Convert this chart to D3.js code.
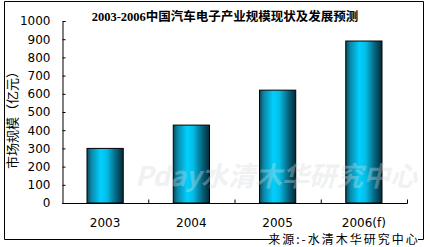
<!DOCTYPE html>
<html><head><meta charset="utf-8">
<script src="https://cdn.jsdelivr.net/npm/d3@7/dist/d3.min.js"></script>
<style>body{margin:0;background:#fff}svg{display:block}</style>
</head><body>
<svg id="c" width="430" height="247"></svg>
<script>
const categories = ["2003", "2004", "2005", "2006(f)"];
const values = [300, 428, 620, 890];
const yTicks = [0,100,200,300,400,500,600,700,800,900,1000];
const title = "2003-2006中国汽车电子产业规模现状及发展预测";
const yTitle = "市场规模（亿元）";
const source = "来源:-水清木华研究中心";

const svg = d3.select("#c");
const m = {left:62, right:407, top:21, bottom:203};

const defs = svg.append("defs");
const g = defs.append("linearGradient").attr("id","bar").attr("x1","0").attr("x2","1").attr("y1","0").attr("y2","0");
[[0,"#0a4a5a"],[0.12,"#0b88a8"],[0.38,"#00d0ff"],[0.55,"#05bde6"],[0.8,"#06647e"],[1,"#032a38"]]
 .forEach(([o,c])=>g.append("stop").attr("offset",o).attr("stop-color",c));

svg.append("path").attr("fill","none").attr("stroke","#000").attr("stroke-width",1)
  .attr("d","M270,239.5 H4.5 V1.5 H423.5 V239.5 H418");

const x = d3.scaleBand().domain(categories).range([m.left, m.right]).paddingInner(0.58).paddingOuter(0.29);
const y = d3.scaleLinear().domain([0,1000]).range([m.bottom, m.top]);

svg.append("g").selectAll("rect").data(values).join("rect")
  .attr("x",(d,i)=>x(categories[i])).attr("width",x.bandwidth())
  .attr("y",d=>y(d)).attr("height",d=>y(0)-y(d))
  .attr("fill","url(#bar)").attr("stroke","#000").attr("stroke-width",1);

svg.append("text").attr("x",276).attr("y",186).attr("text-anchor","middle")
  .attr("font-family","Noto Sans CJK SC").attr("font-size",27).attr("font-style","italic").attr("font-weight","bold")
  .attr("fill","#d4dade").attr("opacity",0.35).text("Pday水清木华研究中心");

const ya = svg.append("g").attr("transform",`translate(${m.left+0.5},0)`)
  .call(d3.axisRight(y).tickValues(yTicks).tickSize(3).tickFormat(d3.format("d")));
ya.select(".domain").attr("d",`M3,${m.top+0.5}H0.5V${m.bottom+0.5}`);
ya.selectAll("text").attr("x",-12).attr("text-anchor","end")
  .attr("font-family","DejaVu Sans").attr("font-size",12).attr("fill","#000");

const step = x.step();
const xa = svg.append("g").attr("transform",`translate(0,${m.bottom+0.5})`);
xa.append("path").attr("stroke","#000").attr("d",`M${m.left},0H${m.right+0.5}`);
xa.selectAll("line").data(categories).join("line")
  .attr("x1",(d,i)=>m.left+step*(i+1)+0.5).attr("x2",(d,i)=>m.left+step*(i+1)+0.5)
  .attr("y1",0).attr("y2",-4).attr("stroke","#000");
xa.selectAll("text").data(categories).join("text")
  .attr("x",d=>x(d)+x.bandwidth()/2).attr("y",23).attr("text-anchor","middle")
  .attr("font-family","DejaVu Sans").attr("font-size",12).text(d=>d);

svg.append("text").attr("x",225).attr("y",21).attr("text-anchor","middle")
  .attr("font-family","Liberation Serif, Noto Sans CJK SC").attr("font-weight","bold").attr("font-size",12.5)
  .text(title);

svg.append("text").attr("transform","translate(17,117) rotate(-90)").attr("text-anchor","middle")
  .attr("font-family","Noto Sans CJK SC").attr("font-size",13).text(yTitle);

svg.append("text").attr("x",344).attr("y",244).attr("text-anchor","middle")
  .attr("font-family","Noto Sans CJK SC").attr("font-size",12).attr("letter-spacing",2).text(source);
</script>
</body></html>
